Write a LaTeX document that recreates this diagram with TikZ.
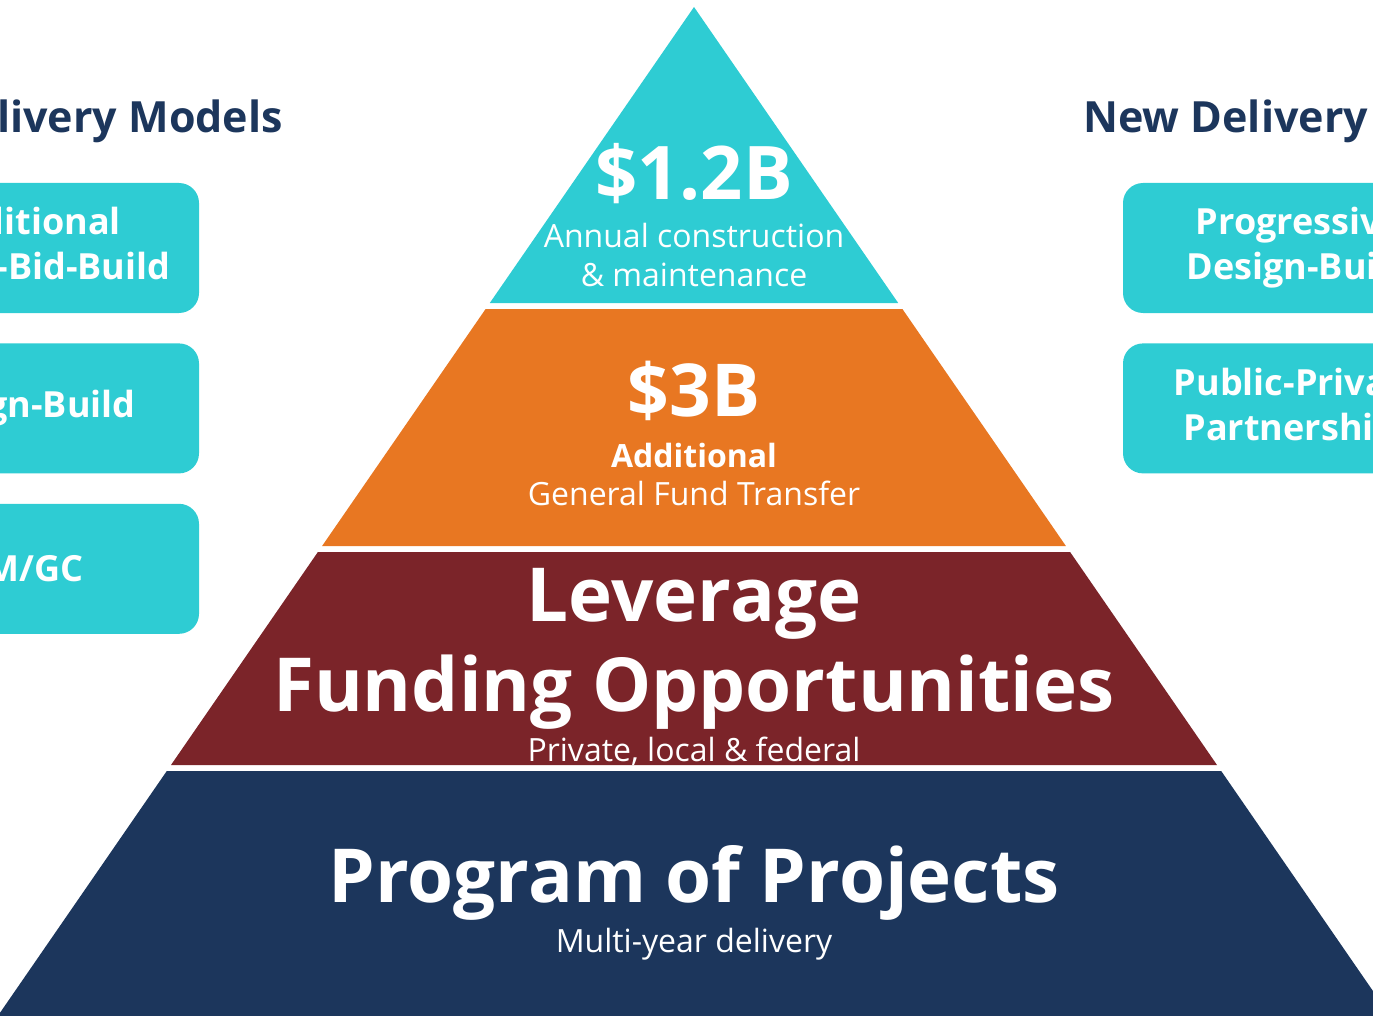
\documentclass[tikz,border=0pt]{standalone}
\usepackage{fontspec}
\setmainfont{Open Sans}
\usetikzlibrary{positioning}

\definecolor{pyrteal}{HTML}{2ECCD3}
\definecolor{pyrorange}{HTML}{E87722}
\definecolor{pyrmaroon}{HTML}{7B2429}
\definecolor{pyrnavy}{HTML}{1C365C}

\begin{document}
\begin{tikzpicture}[x=1pt,y=-1pt,node distance=30pt]

      \tikzstyle{modelbox}=[rectangle,rounded corners=20pt,
        minimum width=352pt,minimum height=130pt,
        text centered,align=center,fill=pyrteal,text=white,
        font=\bfseries\fontsize{36}{45}\selectfont]
      \tikzstyle{heading}=[inner sep=0pt,text=pyrnavy,
        font=\bfseries\fontsize{43}{50}\selectfont]
      \tikzstyle{bignum}=[anchor=base,inner sep=0pt,text=white,
        font=\bfseries\fontsize{74}{84}\selectfont]
      \tikzstyle{bigtitle}=[anchor=base,inner sep=0pt,text=white,
        font=\bfseries\fontsize{74.5}{84}\selectfont]
      \tikzstyle{subtext}=[anchor=base,inner sep=0pt,text=white,
        font=\fontsize{32}{38}\selectfont]

      \useasboundingbox (0,0) rectangle (1373,1016);
      \clip (0,0) rectangle (1373,1016);

      % pyramid layers
      \fill[pyrteal] (694,7) -- (898.2,303) -- (489.8,303) -- cycle;
      \fill[pyrorange] (485.6,309) -- (902.4,309)
        -- (1065.9,546) -- (322.1,546) -- cycle;
      \fill[pyrmaroon] (317.9,552) -- (1070.1,552)
        -- (1217,765) -- (171,765) -- cycle;
      \fill[pyrnavy] (166.8,771) -- (1221.2,771)
        -- (1390.2,1016) -- (-2.2,1016) -- cycle;

      % top layer
      \node(Annual1)[bignum] at (694,200) {\$1.2B};
      \node(Annual2)[subtext] at (694,248) {Annual construction};
      \node(Annual3)[subtext] at (694,287) {\& maintenance};

      % second layer
      \node(Extra1)[bignum,font=\bfseries\fontsize{73}{80}\selectfont]
        at (694,416) {\$3B};
      \node(Extra2)[subtext,font=\bfseries\fontsize{32}{38}\selectfont]
        at (694,467) {Additional};
      \node(Extra3)[subtext] at (694,505) {General Fund Transfer};

      % third layer
      \node(Lever1)[bigtitle] at (694,621) {Leverage};
      \node(Lever2)[bigtitle] at (694,711) {Funding Opportunities};
      \node(Lever3)[subtext] at (694,761) {Private, local \& federal};

      % base layer
      \node(Program1)[bigtitle] at (694,902) {Program of Projects};
      \node(Program2)[subtext] at (694,952) {Multi-year delivery};

      % delivery models
      \node(OldHead)[heading,anchor=base east] at (283,133)
        {Delivery Models};
      \node(OldModel1)[modelbox] at (23,248)
        {Traditional\\Design-Bid-Build};
      \node(OldModel2)[modelbox,below=of OldModel1]{Design-Build};
      \node(OldModel3)[modelbox,below=of OldModel2]{CM/GC};

      \node(NewHead)[heading,anchor=base west] at (1083,133)
        {New Delivery Models};
      \node(NewModel1)[modelbox] at (1299,248)
        {Progressive\\Design-Build};
      \node(NewModel2)[modelbox,below=of NewModel1]
        {Public-Private\\Partnerships};

    \end{tikzpicture}
\end{document}
